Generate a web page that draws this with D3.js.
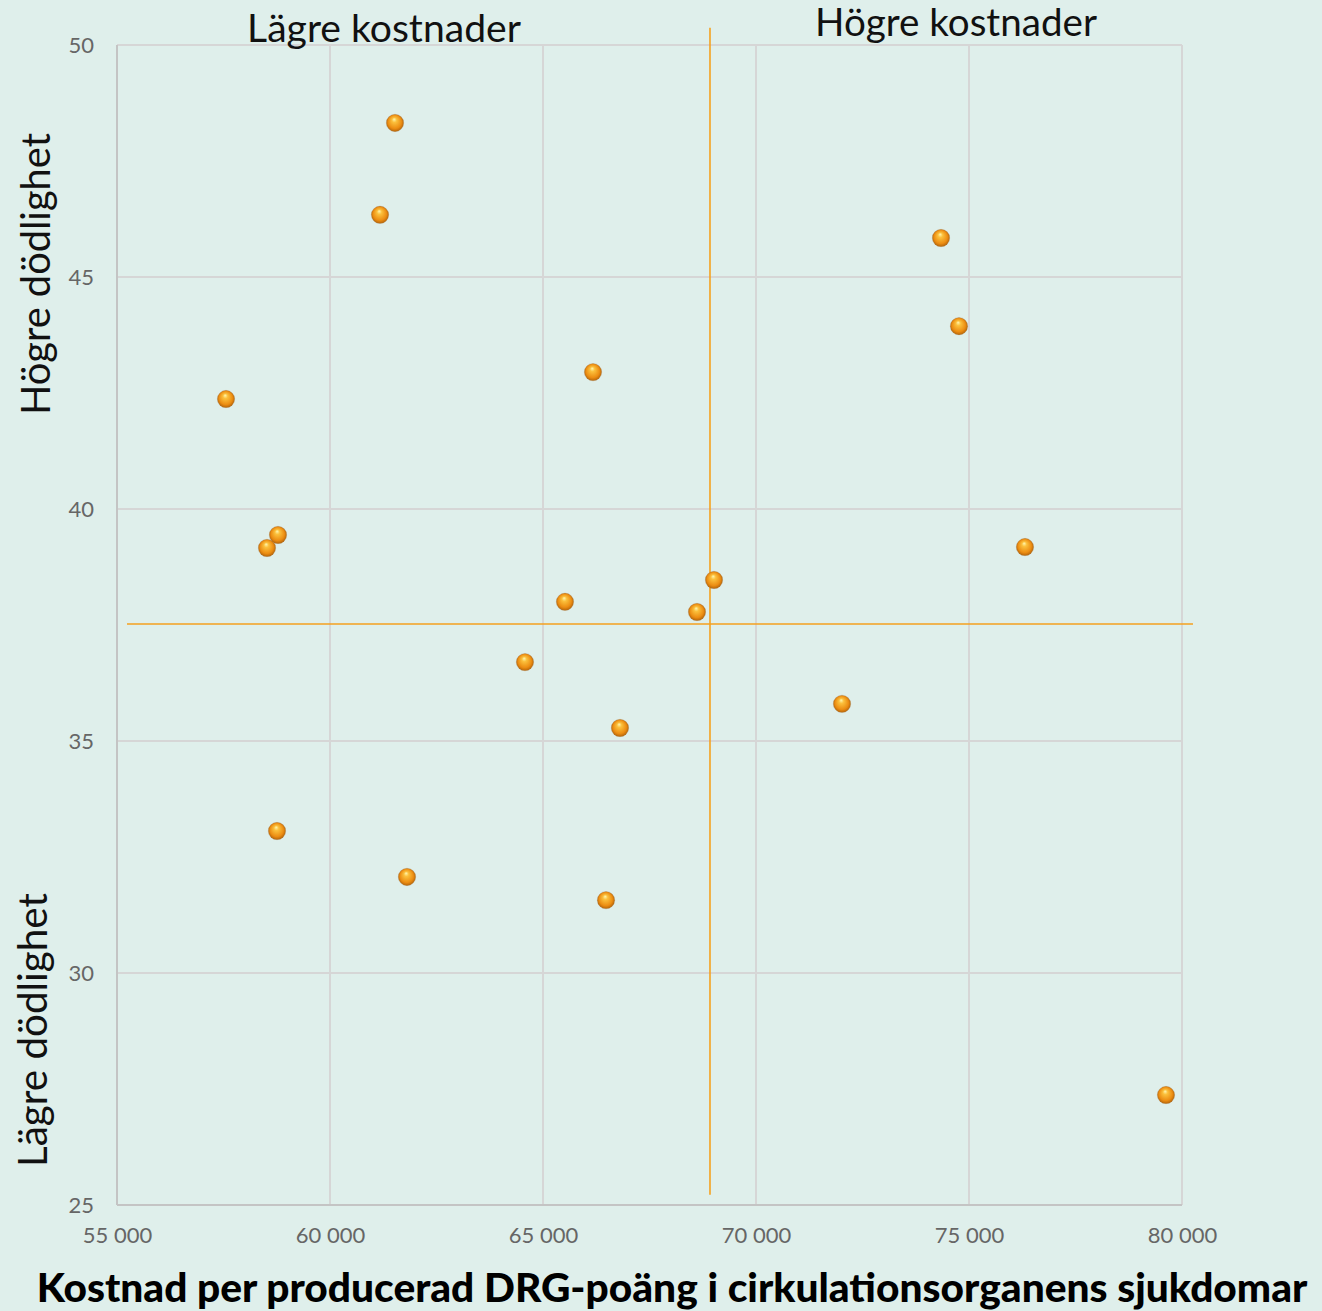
<!DOCTYPE html>
<html><head><meta charset="utf-8">
<script src="https://cdn.jsdelivr.net/npm/d3@7"></script>
<style>
html,body{margin:0;padding:0;background:#dfefeb;}
svg{display:block;}
</style></head>
<body>
<svg id="chart" width="1322" height="1311"></svg>
<script>
// Data
const costs = [61526, 61174, 74343, 74765, 66174, 57559, 58779, 58521, 76314, 69014, 65516, 68615, 64577, 72019, 66807, 58756, 61807, 66479, 79624];
const mortality = [48.32, 46.34, 45.84, 43.94, 42.95, 42.37, 39.44, 39.16, 39.18, 38.47, 38.00, 37.78, 36.70, 35.80, 35.28, 33.06, 32.07, 31.57, 27.37];
const vLineX = [68920, 68920];
const vLineY = [50.37, 25.22];
const hLineX = [55235, 80258];
const hLineY = [37.52, 37.52];
const xTicks = [55000, 60000, 65000, 70000, 75000, 80000];
const yTicks = [25, 30, 35, 40, 45, 50];
const xTitle = "Kostnad per producerad DRG-poäng i cirkulationsorganens sjukdomar";
const quadLabels = {leftTop: "Lägre kostnader", rightTop: "Högre kostnader", yHigh: "Högre dödlighet", yLow: "Lägre dödlighet"};

const svg = d3.select("#chart");
const W = 1322, H = 1311;
const L = 117, R = 1182, T = 45, B = 1205;
svg.append("rect").attr("width", W).attr("height", H).attr("fill", "#dfefeb");

const x = d3.scaleLinear().domain([55000, 80000]).range([L, R]);
const y = d3.scaleLinear().domain([25, 50]).range([B, T]);
const loc = d3.formatLocale({decimal: ",", thousands: " ", grouping: [3], currency: ["", ""]});
const fmt = loc.format(",d");

const defs = svg.append("defs");
const grad = defs.append("radialGradient").attr("id", "ball").attr("cx", "50%").attr("cy", "50%").attr("r", "55%").attr("fx", "45%").attr("fy", "28%");
grad.append("stop").attr("offset", "0%").attr("stop-color", "#fff7b0");
grad.append("stop").attr("offset", "25%").attr("stop-color", "#fbc03c");
grad.append("stop").attr("offset", "70%").attr("stop-color", "#ec8d12");
grad.append("stop").attr("offset", "100%").attr("stop-color", "#a65a08");

// gridlines
const grid = svg.append("g");
grid.selectAll("line.vx").data(xTicks).join("line")
  .attr("x1", d => x(d)).attr("x2", d => x(d)).attr("y1", T).attr("y2", B)
  .attr("stroke", "#d6d6d6").attr("stroke-width", 2);
grid.selectAll("line.hy").data(yTicks).join("line")
  .attr("x1", L).attr("x2", R).attr("y1", d => y(d)).attr("y2", d => y(d))
  .attr("stroke", "#d6d6d6").attr("stroke-width", 2);
// axis lines
svg.append("line").attr("x1", L).attr("x2", L).attr("y1", T).attr("y2", B).attr("stroke", "#c4c4c4").attr("stroke-width", 2);
svg.append("line").attr("x1", L).attr("x2", R).attr("y1", B).attr("y2", B).attr("stroke", "#c4c4c4").attr("stroke-width", 2);

// axes (labels only)
const font = "Lato, 'Open Sans', sans-serif";
const xAxis = svg.append("g").attr("transform", `translate(0,${B})`)
  .call(d3.axisBottom(x).tickValues(xTicks).tickFormat(fmt).tickSize(0).tickPadding(22));
const yAxis = svg.append("g").attr("transform", `translate(${L},0)`)
  .call(d3.axisLeft(y).tickValues(yTicks).tickFormat(d3.format("d")).tickSize(0).tickPadding(23));
[xAxis, yAxis].forEach(a => {
  a.select(".domain").remove();
  a.selectAll("text").attr("fill", "#666").style("font-family", font).style("font-size", "22px");
});

// reference lines
const line = d3.line().x(d => x(d[0])).y(d => y(d[1]));
svg.append("path").datum(vLineX.map((v, i) => [v, vLineY[i]])).attr("d", line)
  .attr("stroke", "#f5a11f").attr("stroke-width", 1.6).attr("fill", "none");
svg.append("path").datum(hLineX.map((v, i) => [v, hLineY[i]])).attr("d", line)
  .attr("stroke", "#f5a11f").attr("stroke-width", 1.6).attr("fill", "none");

// points
const pts = costs.map((c, i) => ({c, m: mortality[i]}));
svg.append("g").selectAll("circle").data(pts).join("circle")
  .attr("cx", d => x(d.c)).attr("cy", d => y(d.m)).attr("r", 8.7)
  .attr("fill", "url(#ball)").attr("stroke", "#9a7a50").attr("stroke-opacity", 0.3).attr("stroke-width", 0.8);

// text helpers: fit to width
function fitText(sel, width) {
  const len = sel.node().getComputedTextLength();
  const fs = parseFloat(sel.style("font-size"));
  sel.style("font-size", (fs * width / len) + "px");
}
const t1 = svg.append("text").text(quadLabels.leftTop).attr("x", 384).attr("y", 42)
  .attr("text-anchor", "middle").style("font-family", font).style("font-size", "34px").attr("fill", "#111");
fitText(t1, 274);
const t2 = svg.append("text").text(quadLabels.rightTop).attr("x", 956).attr("y", 36)
  .attr("text-anchor", "middle").style("font-family", font).style("font-size", "34px").attr("fill", "#111");
fitText(t2, 282);
const t3 = svg.append("text").text(quadLabels.yHigh).attr("transform", "translate(50,274) rotate(-90)")
  .attr("text-anchor", "middle").style("font-family", font).style("font-size", "34px").attr("fill", "#111");
fitText(t3, 282);
const t4 = svg.append("text").text(quadLabels.yLow).attr("transform", "translate(47,1030) rotate(-90)")
  .attr("text-anchor", "middle").style("font-family", font).style("font-size", "34px").attr("fill", "#111");
fitText(t4, 274);
const t5 = svg.append("text").text(xTitle).attr("x", 672).attr("y", 1302)
  .attr("text-anchor", "middle").style("font-family", font).style("font-weight", "900").style("font-size", "34px").attr("fill", "#000");
fitText(t5, 1271);
</script>
</body></html>
